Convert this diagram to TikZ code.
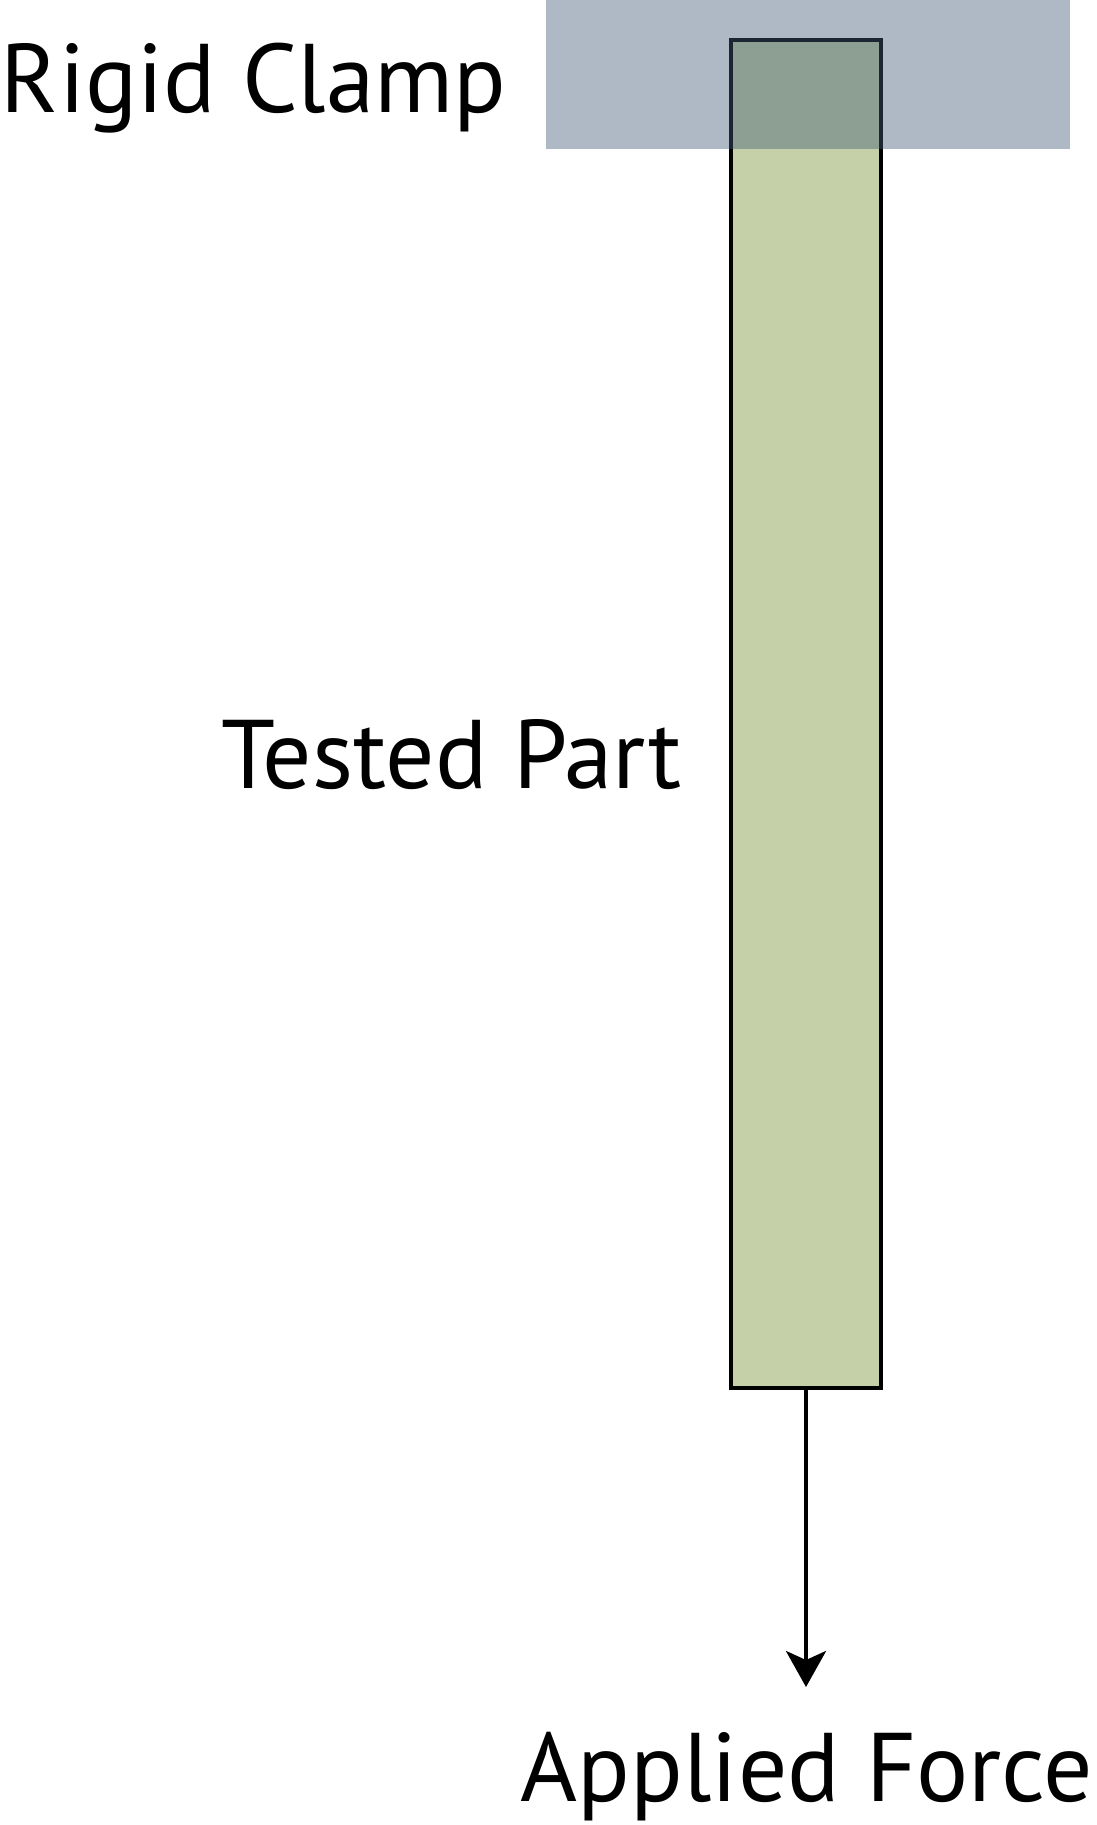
\documentclass[tikz,border=0pt]{standalone}
\usepackage{fontspec}
\setmainfont{PT Sans}
\usetikzlibrary{arrows.meta}
\definecolor{partgreen}{HTML}{C5D0A8}
\definecolor{clampblue}{RGB}{67,90,119}
\begin{document}
\begin{tikzpicture}[x=1pt,y=-1pt,
  lbl/.style={font=\fontsize{97.5}{110}\selectfont, inner sep=0pt, outer sep=0pt},
  partbox/.style={draw=black, line width=3.5pt, fill=partgreen, minimum width=150pt, minimum height=1348pt, inner sep=0pt, outer sep=0pt},
  clampbox/.style={fill=clampblue, fill opacity=0.425, minimum width=524pt, minimum height=149pt, inner sep=0pt, outer sep=0pt},
  force/.style={line width=4pt, -{Stealth[width=40pt,length=36pt,inset=9pt]}}]
\useasboundingbox (0,0) rectangle (1096,1825);
\node[partbox] (part) at (806,714) {};
\node[clampbox] (clamp) at (808,74.5) {};
\coordinate (tip) at (806,1687);
\draw[force] (part.south) -- (tip);
\node[lbl, anchor=base west] (clampLabel) at (1,113) {Rigid Clamp};
\node[lbl, anchor=base east] (partLabel) at (682,788) {Tested Part};
\node[lbl, anchor=base] (forceLabel) at (807,1801) {Applied Force};
\end{tikzpicture}
\end{document}
